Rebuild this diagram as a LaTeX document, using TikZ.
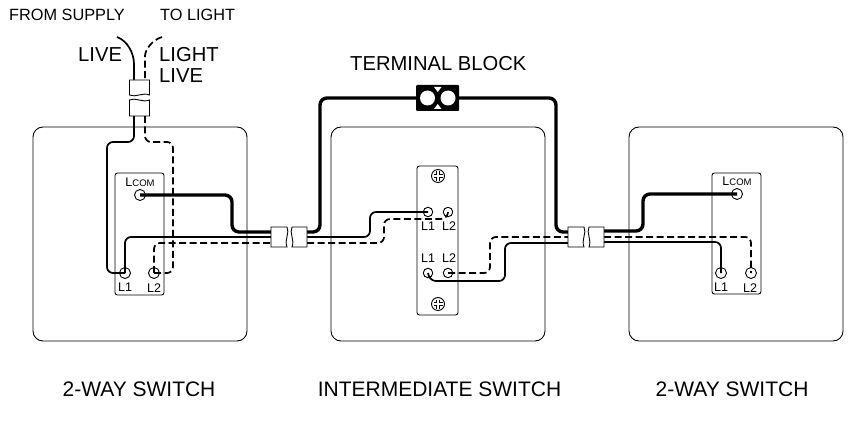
\documentclass[tikz,border=0pt]{standalone}
\usepackage{fontspec}
\setmainfont{Liberation Sans}
\usetikzlibrary{positioning}

\tikzset{
  plate/.style = {draw, rounded corners = 10pt, line width = 0.9pt, minimum width = 214pt, minimum height = 214pt},
  switchbox/.style = {draw, rounded corners = 2.5pt, line width = 0.9pt},
  term/.style = {draw, circle, inner sep = 0pt, line width = 0.9pt, minimum size = 11pt},
  smallterm/.style = {term, minimum size = 9.5pt},
  tag/.style = {font = \fontsize{12.5}{13}\selectfont, inner sep = 0pt},
  wiretext/.style = {font = \fontsize{16.3}{19}\selectfont, inner sep = 0pt, anchor = west},
  bigtext/.style = {font = \fontsize{20.2}{22}\selectfont, inner sep = 0pt, anchor = west},
  title/.style = {font = \fontsize{21}{24}\selectfont, inner sep = 0pt},
  live/.style = {line width = 1.7pt, rounded corners = 6pt},
  heavy/.style = {line width = 3.4pt, rounded corners = 7pt},
  switched/.style = {line width = 1.7pt, rounded corners = 6pt, dash pattern = on 7pt off 3.5pt},
  sleeve/.pic = {
    \draw[fill = white, line width = 0.9pt] (-18,-10) -- (-2,-10) .. controls (1,-4) and (-5,3) .. (-2,10) -- (-18,10) -- cycle;
    \draw[fill = white, line width = 0.9pt] (18,-10) -- (3,-10) .. controls (0,-4) and (6,3) .. (3,10) -- (18,10) -- cycle;
  },
  screw/.pic = {
    \draw[line width = 0.9pt] (0,0) circle (6.5);
    \draw[line width = 3.6pt] (-4.5,0) -- (4.5,0) (0,-4.5) -- (0,4.5);
    \draw[white, line width = 1.8pt] (-4.5,0) -- (4.5,0) (0,-4.5) -- (0,4.5);
  }
}

\begin{document}
\begin{tikzpicture}[x = 1pt, y = -1pt, node distance = 298pt, on grid]
\useasboundingbox (0,0) rectangle (861,422);

% wall plates
\node[plate] (plateL) at (140,234) {};
\node[plate, right = of plateL] (plateM) {};
\node[plate, right = of plateM] (plateR) {};

% switch bodies
\node[switchbox, minimum width = 49pt, minimum height = 122pt] (boxL) at (139.5,234) {};
\node[switchbox, minimum width = 41pt, minimum height = 149pt] (boxM) at (437.5,240.5) {};
\node[switchbox, minimum width = 49pt, minimum height = 121pt] (boxR) at (736.5,233.5) {};

% terminals
\node[term] (comL) at (140,195) {};
\node[term] (oneL) at (125,273) {};
\node[term] (twoL) at (154,273) {};
\node[smallterm] (oneA) at (428,212) {};
\node[smallterm] (twoA) at (448,212) {};
\node[smallterm] (oneB) at (428,273) {};
\node[smallterm] (twoB) at (448,273) {};
\node[term] (comR) at (737,194) {};
\node[term] (oneR) at (721,273) {};
\node[term] (twoR) at (751,273) {};

% terminal labels
\node[tag] (lblComL) at (140,182) {L{\fontsize{9.5}{10}\selectfont COM}};
\node[tag] (lblOneL) at (125,287) {L1};
\node[tag] (lblTwoL) at (154,288) {L2};
\node[tag] (lblOneA) at (428,226) {L1};
\node[tag] (lblTwoA) at (449,226) {L2};
\node[tag] (lblOneB) at (428,258) {L1};
\node[tag] (lblTwoB) at (449,258) {L2};
\node[tag] (lblComR) at (737,181) {L{\fontsize{9.5}{10}\selectfont COM}};
\node[tag] (lblOneR) at (721,287) {L1};
\node[tag] (lblTwoR) at (750,288) {L2};

% terminal block
\node[fill = black, rounded corners = 1pt, minimum width = 43pt, minimum height = 26pt, inner sep = 0pt] (block) at (437.5,98) {};
\node[circle, fill = white, minimum size = 15pt, inner sep = 0pt] (holeA) at (427.5,98) {};
\node[circle, fill = white, minimum size = 15pt, inner sep = 0pt] (holeB) at (448,98) {};
\fill[white] (434,87) -- (441.5,87) -- (437.75,92) -- cycle;
\fill[white] (434,109) -- (441.5,109) -- (437.75,104) -- cycle;

% free ends and sleeve ends
\coordinate (supply) at (117,37);
\coordinate (light) at (162,37);
\coordinate (topL) at (134,116);
\coordinate (topD) at (145,116);
\coordinate (inL) at (134,80);
\coordinate (inD) at (145,80);
\coordinate (aHeavy) at (271,232);
\coordinate (aLive) at (271,237);
\coordinate (aDash) at (271,243);
\coordinate (bHeavy) at (307,232);
\coordinate (bLive) at (307,237);
\coordinate (bDash) at (307,243);
\coordinate (cHeavy) at (569,232);
\coordinate (cDash) at (569,237);
\coordinate (cLive) at (569,243);
\coordinate (dHeavy) at (604,231);
\coordinate (dDash) at (604,237);
\coordinate (dLive) at (604,242);

% supply side
\draw[live] (supply) .. controls (128,41) and (134,54) .. (134,70) -- (inL);
\draw[switched] (light) .. controls (152,40) and (145,50) .. (145,62) -- (inD);
\draw[live] (topL) -- (134,142) -- (107,142) -- (107,273) -- (oneL.center);
\draw[switched] (topD) -- (145,142) -- (173,142) -- (173,273) -- (twoL.center);

% left switch
\draw[heavy] (comL.center) -- (232,195) -- (232,232) -- (aHeavy);
\draw[live] (oneL.center) -- (125,237) -- (aLive);
\draw[switched] (twoL.center) -- (154,243) -- (aDash);

% intermediate switch
\draw[heavy] (bHeavy) -- (320,232) -- (320,98) -- (block);
\draw[heavy] (block) -- (556,98) -- (556,232) -- (cHeavy);
\draw[live] (bLive) -- (370,237) -- (370,212) -- (oneA.center);
\draw[switched] (bDash) -- (384,243) -- (384,219) -- (447,219) -- (twoA.center);
\draw[live] (oneB.center) -- (430,281) -- (505,281) -- (505,243) -- (cLive);
\draw[switched] (twoB.center) -- (490,273) -- (490,237) -- (cDash);

% right switch
\draw[heavy] (dHeavy) -- (643,231) -- (643,194) -- (comR.center);
\draw[live] (dLive) -- (721,242) -- (oneR.center);
\draw[switched] (dDash) -- (751,237) -- (twoR.center);

% cable sleeves and screws
\pic at (139.5,98) [rotate = 90] {sleeve};
\pic at (289,237) {sleeve};
\pic at (586,237) {sleeve};
\pic at (438,176) {screw};
\pic at (438,304) {screw};

% texts
\node[wiretext] (fromSupply) at (9,15) {FROM SUPPLY};
\node[wiretext] (toLight) at (160,15) {TO LIGHT};
\node[bigtext] (liveText) at (78,55) {LIVE};
\node[bigtext, align = left] (lightText) at (159,65) {LIGHT\\[-1.5pt]LIVE};
\node[bigtext] (blockText) at (350,64) {TERMINAL BLOCK};
\node[title] (nameL) at (139,389) {2-WAY SWITCH};
\node[title] (nameM) at (439.5,389) {INTERMEDIATE SWITCH};
\node[title] (nameR) at (732,389) {2-WAY SWITCH};
\end{tikzpicture}
\end{document}
